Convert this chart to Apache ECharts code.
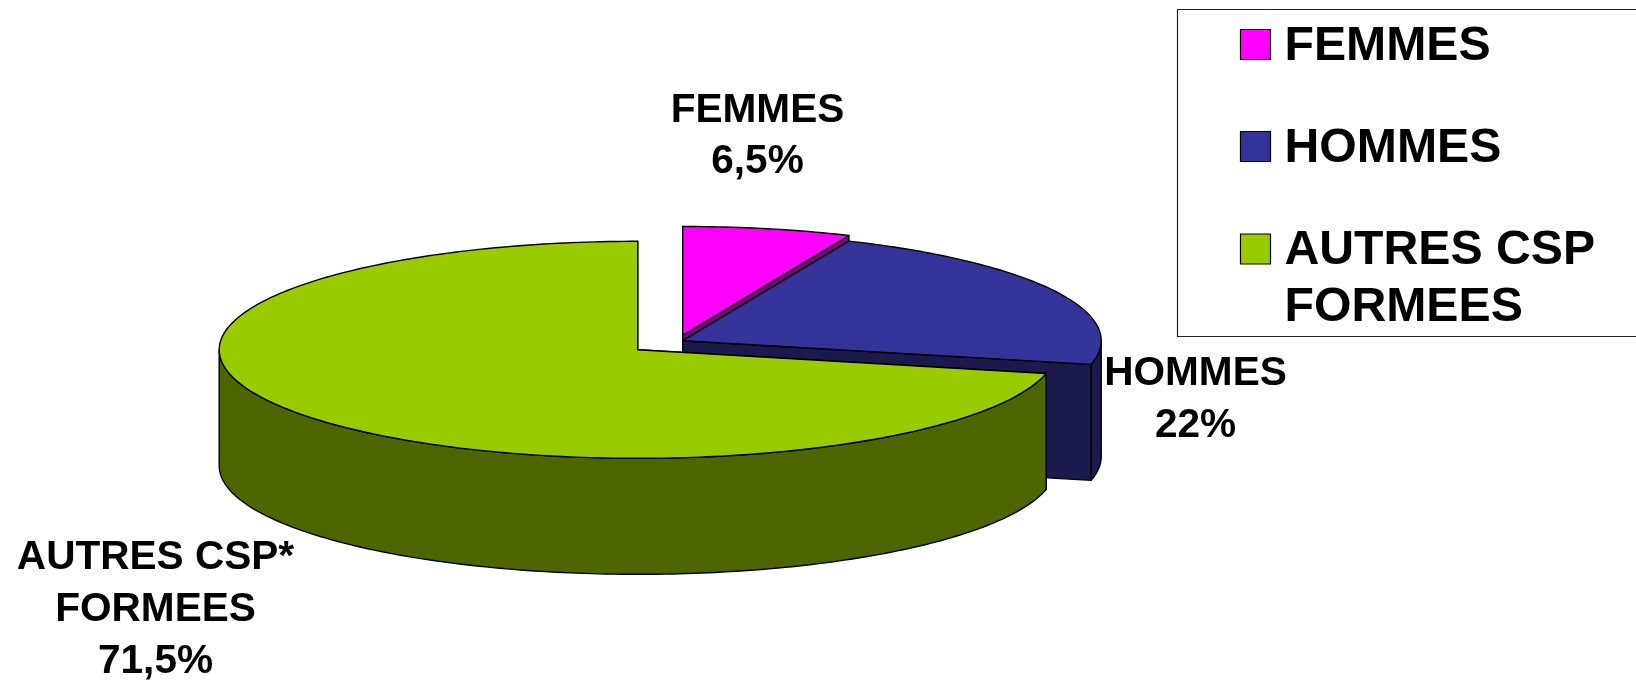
<!DOCTYPE html>
<html>
<head>
<meta charset="utf-8">
<style>html,body{margin:0;padding:0;background:#fff}#c{width:1636px;height:680px}</style>
<script src="https://cdn.jsdelivr.net/npm/echarts@6/dist/echarts.min.js"></script>
</head>
<body>
<div id="c"></div>
<script>
// Data
const categories = ['FEMMES', 'HOMMES', 'AUTRES CSP\nFORMEES'];
const sliceLabels = ['FEMMES', 'HOMMES', 'AUTRES CSP*\nFORMEES'];
const values = [6.5, 22, 71.5];

// Styles
const topColors = ['#FF00FF', '#333399', '#99CC00'];
const sideColors = ['#800080', '#1A1A4D', '#4D6600'];

// Layout
const RX = 418.5, RY = 108.5, DEPTH = 116;
const centers = [[682.7, 335], [682.7, 340.7], [637.7, 349.8]];
const labelPos = [[757.5, 110.5], [1195.5, 374], [155.5, 558]];
const labelLine = 51.7, labelSize = 40.6, legendSize = 48.2;
const FONT = '"Liberation Sans", Arial, sans-serif';

const total = values.reduce((a, b) => a + b, 0);
const cumulative = values.map((v, i) => values.slice(0, i).reduce((a, b) => a + b, 0));

function rim(c, deg, dy) {
  const t = deg * Math.PI / 180;
  return [c[0] + RX * Math.sin(t), c[1] - RY * Math.cos(t) + (dy || 0)];
}
function arc(c, a, b, dy) {
  const pts = [];
  const n = Math.max(2, Math.ceil(Math.abs(b - a)));
  for (let i = 0; i <= n; i++) pts.push(rim(c, a + (b - a) * i / n, dy));
  return pts;
}
function poly(points, fill) {
  return {type: 'polygon', shape: {points}, style: {fill, stroke: '#000', lineWidth: 1.4, lineJoin: 'round'}};
}
function radialWall(c, deg, fill) {
  const r = rim(c, deg);
  return poly([c, r, [r[0], r[1] + DEPTH], [c[0], c[1] + DEPTH]], fill);
}

function renderItem(params, api) {
  const i = params.dataIndex;
  const value = api.value(0), start = api.value(1);
  const a0 = start / total * 360, a1 = (start + value) / total * 360;
  const c = centers[i];
  const children = [radialWall(c, a0, sideColors[i]), radialWall(c, a1, sideColors[i])];
  // The outer wall only shows on the front half of the disc
  const f0 = Math.max(a0, 90), f1 = Math.min(a1, 270);
  if (f1 > f0) {
    children.push(poly(arc(c, f0, f1).concat(arc(c, f1, f0, DEPTH)), sideColors[i]));
  }
  children.push(poly([c].concat(arc(c, a0, a1)), topColors[i]));
  return {type: 'group', children};
}

function sliceLabel(i) {
  return sliceLabels[i] + '\n' + String(values[i]).replace('.', ',') + '%';
}

const legendBox = {x: 1177.5, y: 9.5, w: 480, h: 327};
const swatchY = [29.5, 131.5, 234];
const legendTextY = [47, 148.5, 251];
const legendTextX = 1284.5;

const graphics = [{
  type: 'rect', silent: true,
  shape: {x: legendBox.x, y: legendBox.y, width: legendBox.w, height: legendBox.h},
  style: {fill: '#fff', stroke: '#222', lineWidth: 1.2}
}];
categories.forEach((name, i) => {
  graphics.push({
    type: 'rect', silent: true,
    shape: {x: 1240.5, y: swatchY[i], width: 30, height: 30},
    style: {fill: topColors[i], stroke: '#000', lineWidth: 1.2}
  });
  graphics.push({
    type: 'text', silent: true, x: legendTextX, y: legendTextY[i],
    style: {
      text: name, fill: '#000', font: 'bold ' + legendSize + 'px ' + FONT,
      textAlign: 'left', textVerticalAlign: 'top', lineHeight: 56.5,
      y: -28.25
    }
  });
});
sliceLabels.forEach((_, i) => {
  graphics.push({
    type: 'text', silent: true, x: labelPos[i][0], y: labelPos[i][1],
    style: {
      text: sliceLabel(i), fill: '#000', font: 'bold ' + labelSize + 'px ' + FONT,
      textAlign: 'center', textVerticalAlign: 'top', lineHeight: labelLine,
      y: -labelLine / 2
    }
  });
});

const chart = echarts.init(document.getElementById('c'), null, {renderer: 'canvas'});
chart.setOption({
  animation: false,
  backgroundColor: '#fff',
  tooltip: {show: false},
  graphic: {elements: graphics},
  series: [{
    type: 'custom',
    coordinateSystem: 'none',
    silent: true,
    renderItem,
    data: values.map((v, i) => ({name: categories[i], value: [v, cumulative[i]]}))
  }]
});
</script>
</body>
</html>
